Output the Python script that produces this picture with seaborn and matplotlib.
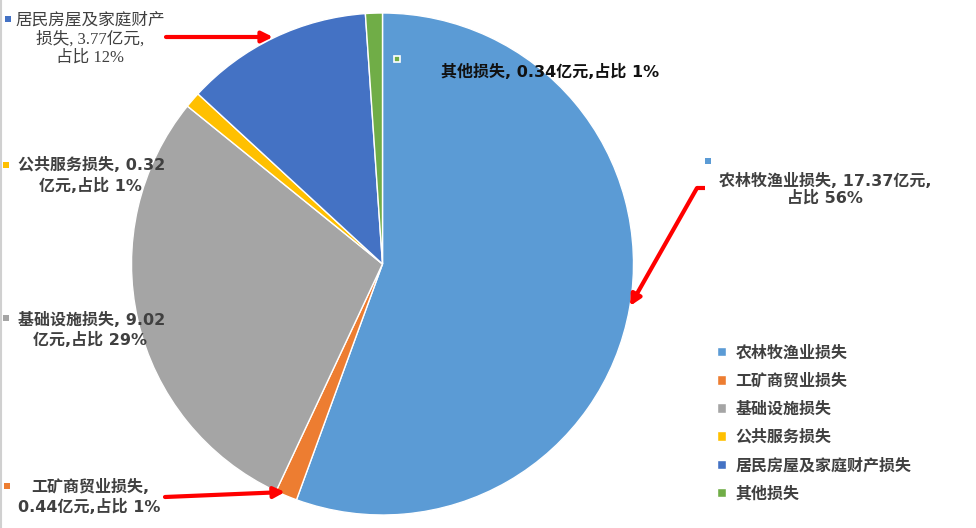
"""Pie chart of disaster losses by category (亿元)"""

import matplotlib
matplotlib.use("Agg")
import matplotlib.pyplot as plt
import seaborn as sns

sns.set_theme(style="white")
plt.rcParams["font.family"] = ["DejaVu Sans", "Noto Sans CJK SC"]

CATEGORIES = ["农林牧渔业损失", "工矿商贸业损失", "基础设施损失",
              "公共服务损失", "居民房屋及家庭财产损失", "其他损失"]
LOSSES = [17.37, 0.44, 9.02, 0.32, 3.77, 0.34]
SHARES = ["56%", "1%", "29%", "1%", "12%", "1%"]
COLORS = ["#5B9BD5", "#ED7D31", "#A5A5A5", "#FFC000", "#4472C4", "#70AD47"]

W, H = 976, 528
TXT = "#404040"
FS = 11.5

fig = plt.figure(figsize=(W / 100, H / 100), dpi=100)

# pie axes: centre (382.5, 264) px, radius 251 px
cx, cy, r = 382.5, 264, 251
ax = fig.add_axes([(cx - r) / W, 1 - (cy + r) / H, 2 * r / W, 2 * r / H])
wedges, _ = ax.pie(LOSSES, colors=COLORS, startangle=90, counterclock=False,
                   wedgeprops=dict(edgecolor="white", linewidth=1))
ax.set_xlim(-1, 1)
ax.set_ylim(-1, 1)

# overlay in pixel coordinates for labels, arrows and legend
ov = fig.add_axes([0, 0, 1, 1])
ov.set_xlim(0, W)
ov.set_ylim(H, 0)
ov.axis("off")
ov.patch.set_alpha(0)
ov.axvline(0.8, color="#d0d0d0", lw=1.5)


def key(x, y, c, edge=None):
    ov.plot([x], [y], marker="s", ms=5, color=c, ls="none",
            mec=edge or c, mew=1.2 if edge else 0)


# 居民房屋及家庭财产
key(8, 19, COLORS[4])
ov.text(90, 39, "居民房屋及家庭财产\n损失, 3.77亿元,\n占比 12%", ha="center", va="center",
        fontsize=12, color=TXT, linespacing=1.2,
        family=["Liberation Serif", "Noto Sans CJK SC"])
# 其他
key(397, 59, COLORS[5], edge="white")
ov.text(441, 72, "其他损失, 0.34亿元,占比 1%", ha="left", va="center",
        fontsize=FS, fontweight="bold", color="#111111")
# 农林
key(708, 161, COLORS[0])
ov.text(825, 189, f"{CATEGORIES[0]}, {LOSSES[0]}亿元,\n占比 {SHARES[0]}", ha="center",
        va="center", fontsize=FS, fontweight="bold", color=TXT, linespacing=1.1)
# 公共服务
key(6, 165, COLORS[3])
ov.text(18, 165, f"{CATEGORIES[3]}, {LOSSES[3]:.2f}", ha="left", va="center",
        fontsize=FS, fontweight="bold", color=TXT)
ov.text(90, 186, f"亿元,占比 {SHARES[3]}", ha="center", va="center",
        fontsize=FS, fontweight="bold", color=TXT)
# 基础设施
key(6, 318, COLORS[2])
ov.text(18, 320, f"{CATEGORIES[2]}, {LOSSES[2]:.2f}", ha="left", va="center",
        fontsize=FS, fontweight="bold", color=TXT)
ov.text(90, 340, f"亿元,占比 {SHARES[2]}", ha="center", va="center",
        fontsize=FS, fontweight="bold", color=TXT)
# 工矿商贸
key(7, 486, COLORS[1])
ov.text(90, 487, f"{CATEGORIES[1]},", ha="center", va="center",
        fontsize=FS, fontweight="bold", color=TXT)
ov.text(89, 507, f"{LOSSES[1]:.2f}亿元,占比 {SHARES[1]}", ha="center", va="center",
        fontsize=FS, fontweight="bold", color=TXT)

# red arrows
arrow = dict(arrowstyle="-|>", color="red", lw=3, mutation_scale=16,
             shrinkA=0, shrinkB=0)
ov.annotate("", xy=(273, 37), xytext=(166, 37), arrowprops=arrow)
ov.annotate("", xy=(285, 492), xytext=(165, 497), arrowprops=arrow)
ov.plot([705, 697], [188, 188], color="red", lw=3, solid_capstyle="butt")
ov.annotate("", xy=(630, 306), xytext=(697, 188), arrowprops=arrow)

# legend
ov.legend(wedges, CATEGORIES, loc="upper left", bbox_to_anchor=(709 / W, 1 - 337 / H),
          bbox_transform=fig.transFigure, frameon=False,
          handlelength=0.55, handleheight=0.55, handletextpad=0.6,
          labelspacing=0.8, borderpad=0, labelcolor=TXT,
          prop={"family": ["DejaVu Sans", "Noto Sans CJK SC"], "size": FS, "weight": "bold"})

fig.savefig("out.png", dpi=100)
